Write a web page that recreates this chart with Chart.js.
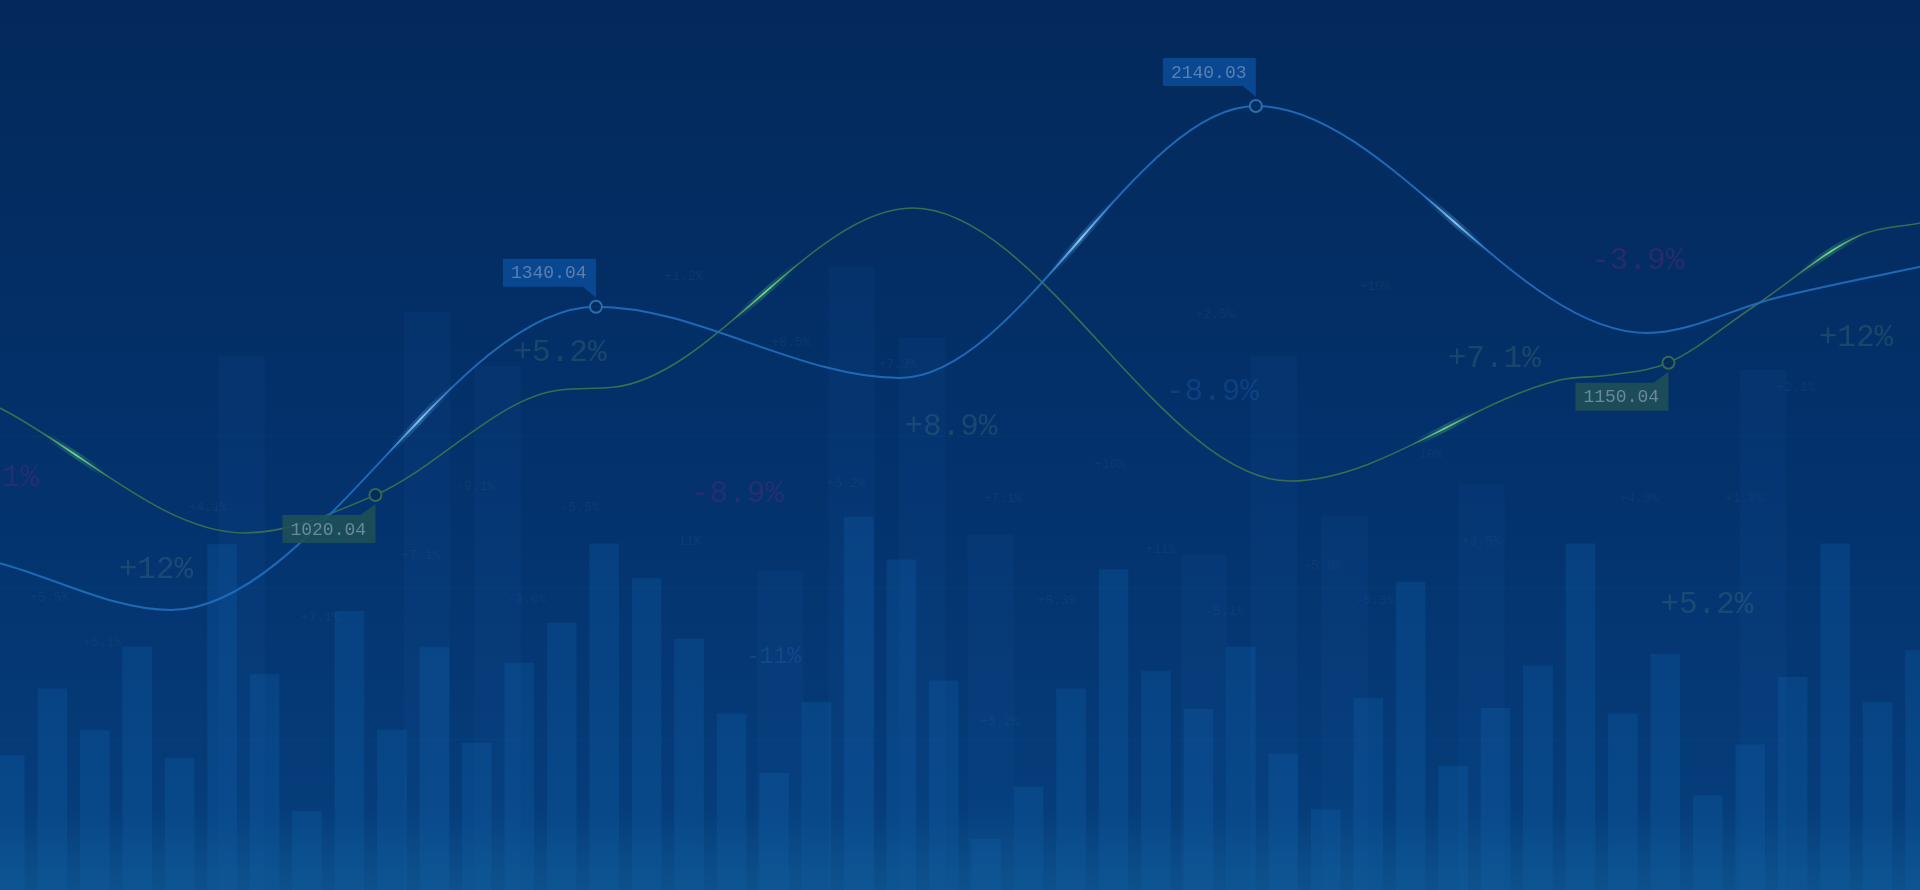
<!DOCTYPE html>
<html>
<head>
<meta charset="utf-8">
<script src="https://cdn.jsdelivr.net/npm/chart.js@4.4.1/dist/chart.umd.min.js"></script>
<style>
  html, body { margin: 0; padding: 0; background: #03295a; overflow: hidden; }
  #bg { display: block; width: 1920px; height: 890px; }
</style>
</head>
<body>
<canvas id="bg" width="1920" height="890"></canvas>
<script>
// ---- data ----
// front bars, one per slot 0..45 (height in % of the frame)
var barValues = [15.1, 22.6, 17.9, 27.3, 14.8, 38.8, 24.2, 8.8, 31.3, 18.0,
                 27.3, 16.5, 25.5, 30.0, 38.9, 35.0, 28.2, 19.8, 13.1, 21.1,
                 41.9, 37.1, 23.5, 5.7, 11.6, 22.6, 36.0, 24.6, 20.3, 27.3,
                 15.3, 9.0, 21.5, 34.6, 13.9, 20.4, 25.2, 38.9, 19.8, 26.5,
                 10.6, 16.3, 23.9, 38.9, 21.1, 26.9];

// faint wide bars in the back
var backSlots  = [5.46, 9.83, 11.49, 18.15, 19.83, 21.50, 23.11, 28.13, 29.78, 31.44, 34.67, 41.3];
var backValues = [60, 64.9, 58.8, 35.8, 70.0, 62.0, 39.9, 37.6, 60.0, 42.0, 45.6, 58.4];

// blue series (turning points + tagged points)
var blueX = [-0.233, 3.795, 13.807, 20.968, 29.354, 38.565, 41.604, 45.0];
var blueY = [318, 131, 1340.04, 1056, 2140.03, 1235.2, 1374.7, 1499.5];
var blueTagged = [1340.04, 2140.03];

// green series
var greenX = [-0.233, 5.538, 8.612, 12.959, 14.255, 21.275, 30.155, 36.516, 37.694, 39.074, 41.074, 43.606, 45.0];
var greenY = [1105.5, 982.7, 1020.04, 1123.2, 1126.1, 1302.0, 1033.8, 1133.0, 1137.9, 1150.04, 1205.0, 1275.5, 1287.3];
var greenTagged = [1020.04, 1150.04];

// change figures scattered over the chart (slot, height %)
var bigText = ['+5.2%', '+12%', '-2.1%', '-8.9%', '+8.9%', '-8.9%', '+7.1%', '-3.9%', '+12%', '+5.2%'];
var bigX    = [12.96, 3.44, -0.41, 17.14, 22.17, 28.33, 34.97, 38.35, 43.49, 39.98];
var bigY    = [60.4, 36.0, 46.3, 44.5, 52.1, 56.0, 59.7, 70.7, 62.0, 32.1];
var midText = ['-11%'];
var midX    = [17.99];
var midY    = [26.2];
var smallText = ['+5.2%', '+7.1%', '+10%', '11%', '+8.3%', '+11%', '-5.1%', '+5.2%', '-5.5%', '-9.1%',
                 '+7.1%', '-3.6%', '+7.1%', '+5.1%', '+5.5%', '+4.1%', '-5.9%', '-5.3%', '+3.5%', '+4.3%',
                 '+1.8%', '10%', '+10%', '+2.1%', '+1.2%', '+8.5%', '+7.3%', '+2.5%'];
var smallX = [19.70, 23.40, 25.92, 16.02, 24.67, 27.12, 28.62, 23.32, 13.43, 10.98,
              9.68, 12.18, 7.31, 2.19, 0.94, 4.67, 30.93, 32.16, 34.66, 38.38,
              40.87, 33.48, 32.16, 42.08, 15.88, 18.40, 20.92, 28.39];
var smallY = [45.7, 44.0, 47.8, 39.1, 32.5, 38.3, 31.3, 18.9, 43.0, 45.3,
              37.6, 32.6, 30.6, 27.8, 32.9, 43.0, 36.5, 32.5, 39.1, 44.0,
              44.0, 48.9, 67.8, 56.4, 68.9, 61.5, 59.0, 64.6];
var gridValues = [17, 34, 51];

// ---- styles ----
var bigTone = ['sage', 'sage', 'violet', 'violet', 'sage', 'steel', 'sage', 'violet', 'sage', 'sage'];
var tones = {
  sage: 'rgba(125,165,135,0.19)',
  violet: 'rgba(120,40,130,0.30)',
  steel: 'rgba(45,115,205,0.24)'
};
var blueGlowAt = [9.66, 25.23, 34.04];
var greenGlowAt = [1.56, 17.79, 33.8, 42.9];
var monoFont = '"Liberation Mono", "DejaVu Sans Mono", monospace';

function pts(xs, ys) {
  return xs.map(function (x, i) { return { x: x, y: ys[i] }; });
}

function glowStroke(base, bright, spots, half) {
  return function (ctx) {
    var chart = ctx.chart;
    var area = chart.chartArea;
    if (!area) return base;
    var w = area.right - area.left;
    var g = chart.ctx.createLinearGradient(area.left, 0, area.right, 0);
    g.addColorStop(0, base);
    spots.forEach(function (s) {
      var px = chart.scales.x.getPixelForValue(s);
      var a = Math.max(0, Math.min(1, (px - half - area.left) / w));
      var b = Math.max(0, Math.min(1, (px - area.left) / w));
      var c = Math.max(0, Math.min(1, (px + half - area.left) / w));
      g.addColorStop(a, base);
      g.addColorStop(b, bright);
      g.addColorStop(c, base);
    });
    g.addColorStop(1, base);
    return g;
  };
}

function tagRadius(tagged) {
  return function (ctx) {
    var v = ctx.raw && ctx.raw.y;
    return tagged.indexOf(v) > -1 ? 6 : 0;
  };
}

var backdrop = {
  id: 'backdrop',
  beforeDraw: function (chart) {
    var c = chart.ctx, h = chart.height;
    var g = c.createLinearGradient(0, 0, 0, h);
    g.addColorStop(0, '#03295a');
    g.addColorStop(0.55, '#03326d');
    g.addColorStop(0.92, '#053d7a');
    g.addColorStop(1, '#0a4a86');
    c.save();
    c.fillStyle = g;
    c.fillRect(0, 0, chart.width, h);
    c.restore();
  },
  beforeDatasetsDraw: function (chart) {
    var c = chart.ctx, x = chart.scales.x, y = chart.scales.yBar;
    c.save();
    c.strokeStyle = 'rgba(120,170,230,0.035)';
    c.lineWidth = 1;
    gridValues.forEach(function (v) {
      var py = Math.round(y.getPixelForValue(v)) + 0.5;
      c.beginPath(); c.moveTo(0, py); c.lineTo(chart.width, py); c.stroke();
    });
    c.textAlign = 'center';
    c.textBaseline = 'middle';
    c.font = '13px ' + monoFont;
    c.fillStyle = 'rgba(120,160,210,0.08)';
    smallText.forEach(function (t, i) {
      c.fillText(t, x.getPixelForValue(smallX[i]), y.getPixelForValue(smallY[i]));
    });
    c.font = '23px ' + monoFont;
    c.fillStyle = tones.steel;
    midText.forEach(function (t, i) {
      c.fillText(t, x.getPixelForValue(midX[i]), y.getPixelForValue(midY[i]));
    });
    c.font = '31px ' + monoFont;
    bigText.forEach(function (t, i) {
      c.fillStyle = tones[bigTone[i]];
      c.fillText(t, x.getPixelForValue(bigX[i]), y.getPixelForValue(bigY[i]));
    });
    c.restore();
  },
  afterDatasetsDraw: function (chart) {
    var c = chart.ctx, h = chart.height;
    c.save();
    var g = c.createLinearGradient(0, h - 90, 0, h);
    g.addColorStop(0, 'rgba(12,80,140,0)');
    g.addColorStop(1, 'rgba(14,88,145,0.5)');
    c.fillStyle = g;
    c.fillRect(0, h - 90, chart.width, 90);
    c.restore();
  }
};

// value boxes with a little pointer to the marked point
var callouts = {
  id: 'callouts',
  afterDatasetsDraw: function (chart) {
    var c = chart.ctx;
    var jobs = [
      { ds: 3, tagged: blueTagged, fill: 'rgba(10,74,150,0.9)', ink: '#5b7fb0', above: true },
      { ds: 5, tagged: greenTagged, fill: 'rgba(30,80,86,0.9)', ink: '#6a889e', above: false }
    ];
    c.save();
    c.font = '18px ' + monoFont;
    c.textBaseline = 'middle';
    c.textAlign = 'left';
    jobs.forEach(function (job) {
      var meta = chart.getDatasetMeta(job.ds);
      var data = chart.data.datasets[job.ds].data;
      data.forEach(function (d, i) {
        if (job.tagged.indexOf(d.y) < 0) return;
        var p = meta.data[i];
        var bw = 93, bh = 28;
        var right = p.x, left = right - bw, top;
        c.fillStyle = job.fill;
        c.beginPath();
        if (job.above) {
          top = p.y - 20 - bh;
          c.rect(left, top, bw, bh);
          c.moveTo(right - 13, top + bh);
          c.lineTo(right, top + bh);
          c.lineTo(right, top + bh + 11);
        } else {
          top = p.y + 20;
          c.rect(left, top, bw, bh);
          c.moveTo(right - 15, top);
          c.lineTo(right, top);
          c.lineTo(right, top - 11);
        }
        c.closePath();
        c.fill();
        c.fillStyle = job.ink;
        c.fillText(d.y.toFixed(2), left + 8, top + bh / 2 + 1);
      });
    });
    c.restore();
  }
};

new Chart(document.getElementById('bg'), {
  data: {
    datasets: [
      {
        type: 'bar', label: 'back', yAxisID: 'yBar', order: 6, grouped: false,
        data: pts(backSlots, backValues), barThickness: 46,
        backgroundColor: 'rgba(45,115,205,0.07)', borderWidth: 0
      },
      {
        type: 'bar', label: 'bars', yAxisID: 'yBar', order: 5, grouped: false,
        data: barValues.map(function (v, i) { return { x: i, y: v }; }), barThickness: 29,
        backgroundColor: 'rgba(30,135,220,0.15)', borderWidth: 0
      },
      {
        type: 'line', label: 'blue glow', yAxisID: 'yBlue', order: 3,
        data: pts(blueX, blueY), cubicInterpolationMode: 'monotone',
        borderWidth: 7, pointRadius: 0,
        borderColor: glowStroke('rgba(90,170,240,0)', 'rgba(110,190,250,0.3)', blueGlowAt, 30)
      },
      {
        type: 'line', label: 'blue', yAxisID: 'yBlue', order: 1,
        data: pts(blueX, blueY), cubicInterpolationMode: 'monotone',
        borderWidth: 2,
        borderColor: glowStroke('rgba(30,108,185,0.95)', 'rgba(130,200,250,1)', blueGlowAt, 34),
        pointRadius: tagRadius(blueTagged), pointBorderWidth: 2,
        pointBorderColor: 'rgba(40,112,175,1)', pointBackgroundColor: 'rgba(3,42,92,0.9)'
      },
      {
        type: 'line', label: 'green glow', yAxisID: 'yGreen', order: 4,
        data: pts(greenX, greenY), cubicInterpolationMode: 'monotone',
        borderWidth: 7, pointRadius: 0,
        borderColor: glowStroke('rgba(90,210,120,0)', 'rgba(100,220,130,0.28)', greenGlowAt, 30)
      },
      {
        type: 'line', label: 'green', yAxisID: 'yGreen', order: 2,
        data: pts(greenX, greenY), cubicInterpolationMode: 'monotone',
        borderWidth: 1.6,
        borderColor: glowStroke('rgba(60,112,78,0.95)', 'rgba(120,225,140,1)', greenGlowAt, 34),
        pointRadius: tagRadius(greenTagged), pointBorderWidth: 2,
        pointBorderColor: 'rgba(55,105,75,1)', pointBackgroundColor: 'rgba(3,42,92,0.9)'
      }
    ]
  },
  options: {
    responsive: false,
    devicePixelRatio: 1,
    animation: false,
    layout: { padding: 0 },
    plugins: { legend: { display: false }, tooltip: { enabled: false } },
    scales: {
      x: { type: 'linear', display: false, offset: false, min: -0.233, max: 45.0 },
      yBar: { type: 'linear', display: false, min: 0, max: 100 },
      yBlue: { type: 'linear', display: false, min: -985, max: 2562.5 },
      yGreen: { type: 'linear', display: false, min: 631.9, max: 1506.4 }
    }
  },
  plugins: [backdrop, callouts]
});
</script>
</body>
</html>
